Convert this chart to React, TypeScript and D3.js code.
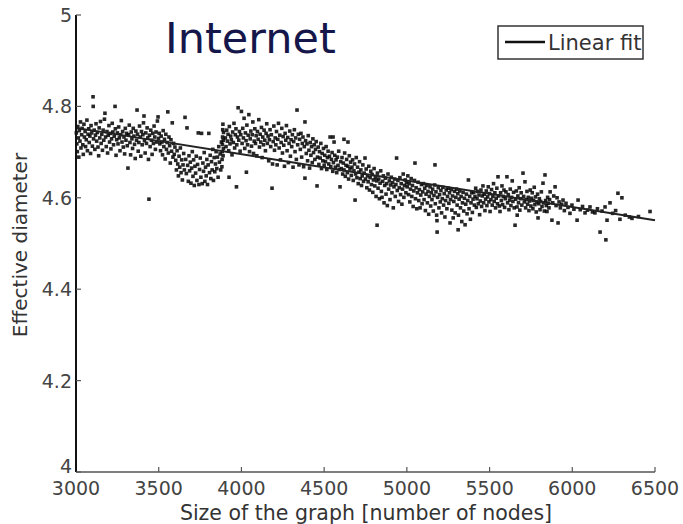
import React from "react";
import { scaleLinear, line } from "d3";

// tick labels
const xTicks = [3000, 3500, 4000, 4500, 5000, 5500, 6000, 6500];
const yTicks = [4, 4.2, 4.4, 4.6, 4.8, 5];

// fitted line end points (graph size, effective diameter)
const fitX = [3000, 6500];
const fitY = [4.753, 4.551];

const pts3000: [number, number][] = [
  [3002,4.742],[3005,4.718],[3008,4.701],[3011,4.756],[3014,4.731],[3017,4.689],[3020,4.747],[3024,4.724],[3027,4.766],[3030,4.709],
  [3034,4.738],[3037,4.752],[3041,4.716],[3044,4.695],[3048,4.761],[3051,4.733],[3055,4.745],[3058,4.712],[3062,4.727],[3066,4.770],
  [3069,4.703],[3073,4.739],[3077,4.751],[3080,4.721],[3084,4.735],[3088,4.697],[3091,4.758],[3095,4.742],[3099,4.713],[3103,4.821],
  [3104,4.800],[3106,4.729],[3110,4.748],[3114,4.706],[3118,4.737],[3121,4.762],[3125,4.724],[3129,4.743],[3133,4.711],[3137,4.692],
  [3140,4.753],[3144,4.731],[3148,4.767],[3152,4.719],[3156,4.739],[3160,4.704],[3164,4.748],[3168,4.726],[3172,4.772],[3175,4.785],
  [3179,4.733],[3183,4.712],[3187,4.745],[3191,4.698],[3195,4.737],[3199,4.758],[3203,4.722],[3207,4.741],[3211,4.707],[3215,4.729],
  [3219,4.763],[3223,4.744],[3227,4.716],[3231,4.735],[3236,4.800],[3238,4.751],[3242,4.693],[3246,4.727],[3250,4.742],[3254,4.718],
  [3258,4.755],[3262,4.731],[3266,4.703],[3270,4.738],[3274,4.769],[3278,4.722],[3282,4.745],[3286,4.711],[3290,4.733],[3294,4.696],
  [3298,4.752],[3302,4.726],[3306,4.741],[3310,4.714],[3314,4.665],[3318,4.738],[3322,4.759],[3326,4.721],[3330,4.694],[3334,4.744],
  [3338,4.729],[3342,4.708],[3346,4.752],[3350,4.735],[3354,4.717],[3358,4.686],[3362,4.746],[3366,4.726],[3369,4.792],[3372,4.739],
  [3376,4.702],[3380,4.721],[3384,4.757],[3388,4.733],[3392,4.691],[3396,4.745],[3400,4.716],[3404,4.738],[3408,4.764],[3411,4.779],
  [3414,4.725],[3418,4.698],[3422,4.742],[3426,4.719],[3430,4.753],[3434,4.731],[3438,4.684],[3441,4.597],[3444,4.737],[3448,4.712],
  [3452,4.748],[3456,4.726],[3460,4.695],[3464,4.741],[3468,4.719],[3472,4.757],[3476,4.733],[3480,4.706],[3484,4.744],[3488,4.722],
  [3492,4.768],[3496,4.777],[3499,4.730],
];

const pts3500: [number, number][] = [
  [3503,4.741],[3507,4.718],[3511,4.703],[3515,4.735],[3519,4.722],[3523,4.694],[3527,4.747],[3531,4.712],[3535,4.728],[3539,4.685],
  [3543,4.739],[3547,4.706],[3551,4.721],[3555,4.788],[3558,4.698],[3562,4.733],[3566,4.714],[3570,4.676],[3574,4.727],[3578,4.702],
  [3582,4.764],[3586,4.689],[3590,4.719],[3594,4.695],[3598,4.711],
  [3603,4.682],[3607,4.661],[3611,4.703],[3615,4.674],[3619,4.648],[3623,4.691],[3627,4.667],[3631,4.709],[3635,4.655],[3639,4.683],
  [3643,4.639],[3647,4.672],[3651,4.697],[3655,4.661],[3659,4.776],[3663,4.684],[3667,4.653],[3671,4.753],[3675,4.671],[3679,4.636],
  [3683,4.692],[3687,4.659],[3691,4.678],[3695,4.632],[3699,4.665],[3703,4.701],[3707,4.647],[3711,4.683],[3715,4.627],[3719,4.669],
  [3723,4.654],[3727,4.691],[3731,4.638],[3735,4.673],[3739,4.742],[3743,4.629],[3747,4.662],[3751,4.687],[3755,4.645],[3759,4.741],
  [3763,4.631],[3767,4.676],[3771,4.658],[3775,4.699],[3779,4.636],[3783,4.667],[3787,4.648],[3791,4.684],[3795,4.629],[3799,4.672],
  [3803,4.741],[3807,4.655],[3811,4.693],[3815,4.642],[3819,4.679],[3823,4.661],[3827,4.706],[3831,4.638],[3835,4.688],[3839,4.657],
  [3843,4.674],[3847,4.701],[3851,4.664],[3855,4.689],[3859,4.645],[3863,4.712],[3867,4.678],[3871,4.696],[3875,4.661],[3879,4.722],
  [3882,4.668],[3883,4.684],[3884,4.701],[3885,4.717],[3886,4.733],[3887,4.749],[3888,4.761],[3889,4.692],[3890,4.726],[3891,4.708],
  [3892,4.743],
];

const pts3900: [number, number][] = [
  [3903,4.731],[3907,4.712],[3911,4.748],[3915,4.724],[3919,4.739],[3923,4.703],[3925,4.645],[3927,4.756],[3931,4.718],[3935,4.735],
  [3939,4.727],[3943,4.694],[3947,4.744],[3951,4.721],[3955,4.763],[3959,4.709],[3963,4.738],[3967,4.751],[3970,4.624],[3972,4.716],
  [3976,4.733],[3980,4.797],[3984,4.726],[3988,4.745],[3992,4.702],[3996,4.738],[4000,4.789],[4004,4.719],[4008,4.752],[4012,4.731],
  [4016,4.774],[4020,4.708],[4024,4.742],[4028,4.725],[4030,4.656],[4033,4.759],[4037,4.716],[4041,4.737],[4045,4.782],[4049,4.701],
  [4053,4.729],[4057,4.746],[4061,4.713],[4065,4.738],[4069,4.766],[4073,4.697],[4077,4.724],[4081,4.751],[4085,4.719],[4089,4.736],
  [4093,4.692],[4097,4.745],[4101,4.728],[4105,4.771],[4109,4.711],[4113,4.739],[4117,4.722],[4121,4.754],[4125,4.688],[4129,4.733],
  [4133,4.716],[4137,4.748],[4141,4.726],[4145,4.703],[4149,4.741],[4153,4.762],[4157,4.719],[4161,4.735],[4165,4.681],[4169,4.727],
  [4173,4.749],[4177,4.712],[4181,4.738],[4185,4.621],[4188,4.674],[4192,4.723],[4196,4.757],[4200,4.704],[4204,4.731],[4208,4.716],
  [4212,4.745],[4216,4.672],[4220,4.728],[4224,4.763],[4228,4.709],[4232,4.737],[4236,4.683],[4240,4.721],[4244,4.752],[4248,4.698],
  [4252,4.734],[4256,4.715],[4260,4.669],[4264,4.741],[4268,4.726],[4272,4.758],[4276,4.703],[4280,4.732],[4284,4.677],[4288,4.719],
  [4292,4.746],[4296,4.691],[4300,4.727],[4304,4.712],[4308,4.738],[4312,4.667],[4316,4.723],[4320,4.749],[4324,4.701],[4328,4.731],
  [4332,4.684],[4336,4.792],[4340,4.716],[4344,4.739],[4348,4.672],
  [4352,4.728],[4356,4.706],[4360,4.741],[4364,4.689],[4368,4.719],[4372,4.733],[4376,4.668],[4380,4.712],[4384,4.766],[4384,4.643],
  [4388,4.725],[4392,4.697],[4396,4.718],[4400,4.681],[4404,4.736],[4408,4.704],[4412,4.665],[4416,4.721],[4420,4.693],[4424,4.712],
  [4428,4.677],[4432,4.729],[4436,4.699],[4440,4.716],[4444,4.684],[4448,4.706],[4452,4.723],[4457,4.626],[4460,4.689],[4464,4.711],
  [4468,4.673],[4472,4.701],[4476,4.687],[4480,4.719],[4484,4.664],[4488,4.697],[4492,4.681],[4496,4.708],
];

const pts4500: [number, number][] = [
  [4500,4.671],[4504,4.693],[4508,4.679],[4512,4.712],[4516,4.662],[4520,4.688],[4524,4.702],[4528,4.674],[4532,4.691],[4536,4.733],
  [4540,4.668],[4544,4.684],[4548,4.699],[4552,4.658],[4554,4.733],[4556,4.677],[4560,4.722],[4564,4.693],[4568,4.667],[4572,4.683],
  [4576,4.655],[4580,4.689],[4584,4.671],[4588,4.702],[4592,4.662],[4596,4.624],[4600,4.679],[4620,4.728],[4644,4.722],
  [4604,4.664],[4608,4.688],[4612,4.652],[4616,4.676],[4620,4.661],[4624,4.698],[4628,4.647],[4632,4.671],[4636,4.684],[4640,4.655],
  [4644,4.669],[4648,4.641],[4652,4.692],[4656,4.663],[4660,4.678],[4664,4.649],[4668,4.667],[4672,4.683],[4676,4.638],[4680,4.659],
  [4684,4.674],[4687,4.595],[4690,4.652],[4694,4.688],[4698,4.644],[4702,4.667],[4706,4.631],[4710,4.656],[4714,4.679],[4718,4.642],
  [4722,4.661],[4726,4.627],[4730,4.648],[4734,4.672],[4738,4.636],[4742,4.654],[4747,4.687],[4750,4.641],[4754,4.663],[4758,4.622],
  [4762,4.648],[4766,4.635],[4770,4.669],[4774,4.617],[4778,4.644],[4782,4.658],[4786,4.629],[4790,4.651],[4794,4.612],[4798,4.639],
  [4802,4.664],[4806,4.626],[4810,4.645],[4814,4.603],[4818,4.637],[4820,4.540],[4822,4.654],[4826,4.621],[4830,4.641],[4834,4.598],
  [4838,4.632],[4842,4.659],[4846,4.614],[4850,4.601],[4854,4.636],[4858,4.648],[4862,4.589],[4866,4.627],[4870,4.643],[4874,4.608],
  [4878,4.631],[4882,4.583],[4886,4.652],[4890,4.619],[4894,4.637],[4898,4.596],[4902,4.628],[4906,4.645],[4910,4.611],[4914,4.633],
  [4918,4.578],[4922,4.624],[4926,4.641],[4930,4.603],[4934,4.629],[4938,4.687],[4942,4.616],[4946,4.638],[4950,4.592],[4954,4.622],
  [4958,4.644],[4962,4.607],[4966,4.631],[4970,4.586],[4974,4.619],[4978,4.652],[4982,4.601],[4986,4.627],[4990,4.639],[4994,4.611],
  [4998,4.633],
];

const pts5000: [number, number][] = [
  [5002,4.624],[5006,4.648],[5010,4.607],[5014,4.631],[5018,4.591],[5022,4.619],[5026,4.642],[5030,4.603],[5034,4.627],[5038,4.581],
  [5042,4.615],[5046,4.638],[5049,4.676],[5052,4.598],[5056,4.622],[5060,4.576],[5064,4.611],[5068,4.634],[5072,4.594],[5076,4.618],
  [5080,4.578],[5084,4.606],[5088,4.629],[5092,4.587],[5096,4.613],[5100,4.631],[5104,4.596],[5108,4.621],[5112,4.572],[5116,4.608],
  [5120,4.627],[5124,4.589],[5128,4.614],[5132,4.564],[5136,4.603],[5140,4.624],[5144,4.582],[5148,4.611],[5152,4.596],[5156,4.619],
  [5160,4.571],[5164,4.605],[5168,4.628],[5170,4.672],[5172,4.587],[5176,4.613],[5180,4.562],[5182,4.550],[5183,4.525],[5186,4.601],
  [5190,4.622],[5194,4.578],[5198,4.607],[5202,4.591],[5206,4.616],[5210,4.567],[5214,4.598],[5218,4.623],[5222,4.584],[5226,4.609],
  [5230,4.558],[5234,4.594],[5238,4.617],[5242,4.576],[5246,4.603],[5250,4.621],[5254,4.588],[5258,4.611],[5261,4.545],[5264,4.596],
  [5268,4.618],[5272,4.573],[5276,4.604],[5280,4.556],[5284,4.592],[5288,4.614],[5292,4.567],[5296,4.601],[5300,4.619],[5304,4.584],
  [5308,4.609],[5310,4.530],[5312,4.562],[5316,4.597],[5320,4.615],[5324,4.578],[5328,4.603],[5332,4.548],[5336,4.589],[5340,4.612],
  [5344,4.571],[5348,4.599],[5352,4.541],[5356,4.586],[5360,4.608],[5364,4.565],[5368,4.594],[5372,4.639],[5376,4.576],[5380,4.603],
  [5384,4.553],[5388,4.589],[5392,4.611],[5396,4.568],[5400,4.597],
];

const pts5400: [number, number][] = [
  [5404,4.612],[5408,4.584],[5412,4.603],[5416,4.621],[5420,4.579],[5424,4.598],[5428,4.614],[5432,4.587],[5436,4.606],[5440,4.563],
  [5444,4.593],[5448,4.617],[5452,4.581],[5456,4.604],[5460,4.626],[5464,4.589],[5468,4.608],[5472,4.572],[5476,4.597],[5480,4.615],
  [5484,4.583],[5488,4.602],[5492,4.624],[5496,4.591],[5500,4.609],[5503,4.570],[5508,4.596],[5512,4.618],[5516,4.584],[5520,4.603],
  [5524,4.631],[5528,4.592],[5532,4.611],[5536,4.578],[5540,4.599],[5544,4.621],[5548,4.587],[5551,4.646],[5555,4.604],[5559,4.582],
  [5563,4.570],[5567,4.611],[5571,4.594],[5575,4.626],[5579,4.585],[5583,4.603],[5587,4.617],[5591,4.579],[5595,4.598],[5599,4.613],
  [5605,4.646],[5609,4.589],[5613,4.607],[5617,4.574],[5621,4.595],[5625,4.619],[5629,4.583],[5633,4.601],[5637,4.637],[5641,4.592],
  [5645,4.612],[5649,4.578],[5654,4.540],[5658,4.597],[5662,4.615],[5666,4.580],[5667,4.562],[5671,4.604],[5675,4.589],[5679,4.622],
  [5683,4.573],[5687,4.598],[5691,4.611],[5695,4.584],[5702,4.654],[5706,4.603],[5710,4.591],[5714,4.635],[5718,4.578],[5722,4.596],
  [5726,4.614],[5730,4.586],[5734,4.601],[5738,4.572],[5742,4.593],[5746,4.617],[5750,4.582],[5754,4.599],[5758,4.611],[5762,4.576],
  [5766,4.594],[5770,4.623],[5774,4.585],[5778,4.602],[5782,4.569],[5786,4.591],[5790,4.608],[5793,4.556],[5797,4.587],[5801,4.598],
  [5805,4.574],[5809,4.592],[5813,4.613],[5817,4.581],[5823,4.632],[5827,4.589],[5831,4.571],[5835,4.650],[5839,4.594],[5843,4.583],
  [5847,4.570],[5851,4.601],[5855,4.588],[5859,4.578],[5863,4.596],
];

const pts5900: [number, number][] = [
  [5866,4.613],[5877,4.551],[5882,4.589],[5888,4.604],[5896,4.624],[5902,4.583],[5908,4.600],[5914,4.545],[5920,4.591],[5928,4.578],
  [5936,4.586],[5944,4.595],[5952,4.572],[5962,4.588],[5974,4.579],[5986,4.566],[5998,4.584],[6010,4.575],[6029,4.551],[6035,4.595],
  [6048,4.574],[6062,4.581],[6077,4.567],[6092,4.573],[6107,4.580],[6122,4.569],[6137,4.567],[6152,4.576],[6168,4.525],[6180,4.571],
  [6198,4.580],[6203,4.508],[6210,4.551],[6228,4.589],[6244,4.566],[6262,4.572],[6276,4.610],[6288,4.553],[6300,4.600],[6320,4.562],
  [6345,4.558],[6361,4.555],[6400,4.559],[6470,4.570],
];

const points = [...pts3000, ...pts3500, ...pts3900, ...pts4500, ...pts5000, ...pts5400, ...pts5900];

const W = 683;
const H = 524;
const left = 76, right = 655, top = 15, bottom = 472;
const font = "'DejaVu Sans', sans-serif";

export default function App() {
  const x = scaleLinear().domain([3000, 6500]).range([left, right]);
  const y = scaleLinear().domain([4, 5]).range([bottom, top]);
  const fitPath = line<number>().x((d) => x(d)).y((_, i) => y(fitY[i]))(fitX) || "";
  const s = 3.6;

  return (
    <svg width={W} height={H} style={{ position: "absolute", left: 0, top: 0, background: "#fff" }}>
      <rect width={W} height={H} fill="#fff" />
      {/* points */}
      <g fill="#000" fillOpacity={0.85}>
        {points.map((p, i) => (
          <rect key={i} x={x(p[0]) - s / 2} y={y(p[1]) - s / 2} width={s} height={s} />
        ))}
      </g>
      {/* linear fit */}
      <path d={fitPath} fill="none" stroke="#222" strokeWidth={2} />

      {/* x axis */}
      <line x1={left} x2={right} y1={bottom} y2={bottom} stroke="#555" strokeWidth={1.5} />
      {xTicks.map((t) => (
        <g key={t}>
          <line x1={x(t)} x2={x(t)} y1={bottom} y2={bottom - 5} stroke="#555" strokeWidth={1.2} />
          <text x={x(t)} y={bottom + 23} textAnchor="middle" fontFamily={font} fontSize={19} fill="#444">
            {t}
          </text>
        </g>
      ))}
      {/* y axis */}
      <line x1={left} x2={left} y1={top} y2={bottom} stroke="#111" strokeWidth={2} />
      {yTicks.map((t) => (
        <g key={t}>
          <line x1={left} x2={left + 5} y1={y(t)} y2={y(t)} stroke="#555" strokeWidth={1.2} />
          <text
            x={left - 4}
            y={t === 4 ? y(t) + 1 : y(t) + 7}
            textAnchor="end"
            fontFamily={font}
            fontSize={19}
            fill="#444"
          >
            {t}
          </text>
        </g>
      ))}

      {/* axis labels */}
      <text x={366} y={520} textAnchor="middle" fontFamily={font} fontSize={20.5} fill="#333">
        Size of the graph [number of nodes]
      </text>
      <text transform="translate(27,245) rotate(-90)" textAnchor="middle" fontFamily={font} fontSize={20} fill="#333">
        Effective diameter
      </text>

      {/* title */}
      <text x={165} y={53} fontFamily={font} fontSize={43} fill="#15164a">
        Internet
      </text>

      {/* legend */}
      <rect x={498} y={26} width={145} height={33} fill="#fff" stroke="#333" strokeWidth={1.5} />
      <line x1={505} x2={545} y1={42} y2={42} stroke="#111" strokeWidth={2.5} />
      <text x={548} y={50} fontFamily={font} fontSize={21} fill="#333">
        Linear fit
      </text>
    </svg>
  );
}
